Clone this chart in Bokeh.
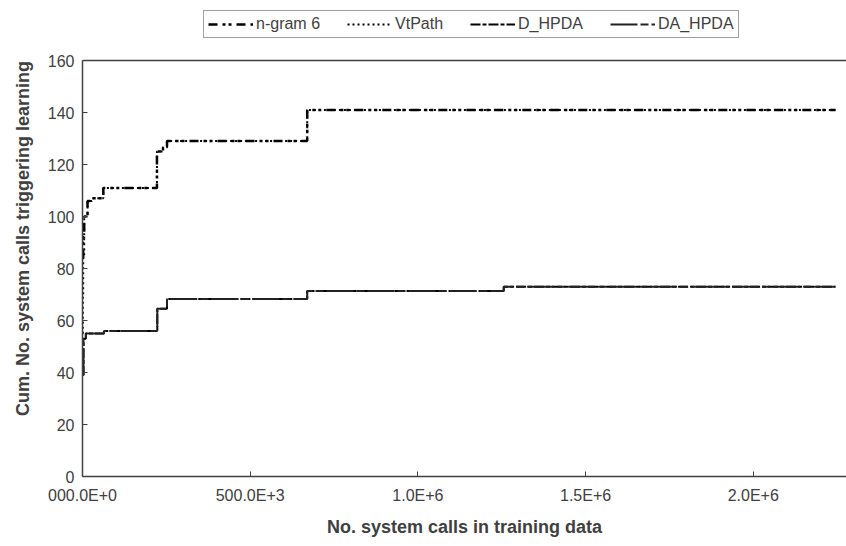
from bokeh.plotting import figure
from bokeh.models import (Range1d, FixedTicker, LinearAxis, Legend, LegendItem, Span)
from bokeh.embed import file_html
from bokeh.resources import INLINE

# ---- data ----
ngram_x = [0, 2000, 5000, 15000, 28000, 62000, 222000, 240000, 252000, 670000, 2245000]
ngram_y = [84, 92, 100, 106, 107, 111, 125, 126.5, 129, 141, 141]

vtpath_x = [0, 1000, 2000, 5000, 15000, 28000, 62000, 222000, 240000, 252000, 670000, 2245000]
vtpath_y = [55, 70, 84, 100, 106, 107, 111, 125, 126.5, 129, 141, 141]

dhpda_x = [0, 3000, 10000, 64000, 223000, 252000, 670000, 1256000, 2245000]
dhpda_y = [39, 53, 55, 56, 64.5, 68.3, 71.3, 73, 73]

dahpda_x = [0, 3000, 10000, 64000, 223000, 252000, 670000, 1256000, 2245000]
dahpda_y = [39, 53, 55, 56, 64.5, 68.3, 71.3, 73, 73]

x_tick_vals = [0, 500000, 1000000, 1500000, 2000000]
x_tick_labels = ["000.0E+0", "500.0E+3", "1.0E+6", "1.5E+6", "2.0E+6"]
y_tick_vals = [0, 20, 40, 60, 80, 100, 120, 140, 160]

FONT = "Liberation Sans"
TXT = "#404040"
AX = "#404040"

p = figure(width=846, height=546, output_backend="svg", toolbar_location=None,
           x_range=Range1d(0, 2278000), y_range=Range1d(0, 183.08),
           min_border_left=82, min_border_right=0, min_border_top=0,
           min_border_bottom=70, x_axis_location=None, y_axis_location=None)
p.outline_line_color = None
p.background_fill_color = "white"
p.border_fill_color = "white"
p.grid.visible = False

xaxis = LinearAxis(ticker=FixedTicker(ticks=x_tick_vals),
                   major_label_overrides={v: l for v, l in zip(x_tick_vals, x_tick_labels)},
                   axis_label="No. system calls in training data")
yaxis = LinearAxis(ticker=FixedTicker(ticks=y_tick_vals),
                   axis_label="Cum. No. system calls triggering learning",
                   bounds=(y_tick_vals[0], y_tick_vals[-1]))
for ax in (xaxis, yaxis):
    ax.axis_line_color = AX
    ax.axis_line_width = 1.5
    ax.major_tick_line_color = AX
    ax.major_tick_in = 5
    ax.major_tick_out = 0
    ax.minor_tick_line_color = None
    ax.major_label_text_font = FONT
    ax.major_label_text_font_size = "16px"
    ax.major_label_text_color = TXT
    ax.axis_label_text_font = FONT
    ax.axis_label_text_font_size = "18px"
    ax.axis_label_text_font_style = "bold"
    ax.axis_label_text_color = TXT
xaxis.major_label_standoff = 10
xaxis.axis_label_standoff = 10
yaxis.major_label_standoff = 8
yaxis.axis_label_standoff = 12
p.add_layout(xaxis, "below")
p.add_layout(yaxis, "left")

# top border of the plot area
p.add_layout(Span(location=y_tick_vals[-1], dimension="width",
                  line_color=AX, line_width=1.5))

r1 = p.step(ngram_x, ngram_y, mode="after", line_color="black", line_width=2.5,
            line_dash="9 5 3 3 3 5")
r2 = p.step(vtpath_x, vtpath_y, mode="after", line_color="black", line_width=2,
            line_dash="2 3")
r3 = p.step(dhpda_x, dhpda_y, mode="after", line_color="black", line_width=2,
            line_dash="10 2 4 2")
r4 = p.step(dahpda_x, dahpda_y, mode="after", line_color="#222222", line_width=2,
            line_dash="27 3 8 3")

legend = Legend(items=[LegendItem(label="n-gram 6", renderers=[r1]),
                       LegendItem(label="VtPath", renderers=[r2]),
                       LegendItem(label="D_HPDA", renderers=[r3]),
                       LegendItem(label="DA_HPDA", renderers=[r4])],
                orientation="horizontal", location=(121, 438),
                label_text_font=FONT, label_text_font_size="16px",
                label_text_color=TXT, glyph_width=45, glyph_height=16,
                label_height=16, label_standoff=3, spacing=27, padding=4,
                margin=0, border_line_color=AX, border_line_width=1,
                background_fill_color="white")
p.add_layout(legend, "center")

open("out.html", "w").write(file_html(p, INLINE))
